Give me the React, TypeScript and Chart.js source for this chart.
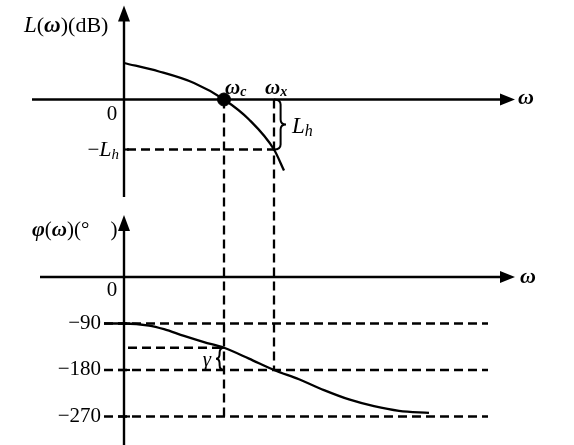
import React, { useEffect, useRef } from 'react';
import { Chart, registerables } from 'chart.js';

Chart.register(...registerables);

// ---- data (diagram values) ----
const OMEGA_C = 2.0; // gain crossover frequency
const OMEGA_X = 3.0; // phase crossover frequency
const L_H = 10; // gain margin (dB)
const PHASE_AT_WC = -137; // phase at omega_c  (gamma = 43 deg)

const magOmega = [0, 0.7, 1.4, 2.0, 2.5, 3.0, 3.2];
const magDb = [7.3, 5.6, 3.3, 0, -4.0, -10, -14.2];

const phaseOmega = [-0.4, 0, 0.5, 0.8, 1.2, 1.6, 2.0, 2.5, 3.0, 3.5, 4.0, 4.5, 5.0, 5.5, 6.1];
const phaseDeg = [-90, -90, -94, -101, -114, -126, -137, -158, -180, -198, -219, -237, -250, -259, -263];

const phaseRefLines = [-90, -180, -270];
const phaseTickLabels = ['\u221290', '\u2212180', '\u2212270'];

const SERIF = '"Liberation Serif", "Times New Roman", serif';

type Part = { t: string; f: string; dy?: number };

function drawParts(ctx: CanvasRenderingContext2D, parts: Part[], x: number, y: number, align: 'left' | 'right' | 'center') {
  const widths = parts.map((p) => {
    ctx.font = p.f;
    return ctx.measureText(p.t).width;
  });
  const total = widths.reduce((a, b) => a + b, 0);
  let cx = align === 'right' ? x - total : align === 'center' ? x - total / 2 : x;
  ctx.textBaseline = 'middle';
  ctx.textAlign = 'left';
  parts.forEach((p, i) => {
    ctx.font = p.f;
    ctx.fillText(p.t, cx, y + (p.dy || 0));
    cx += widths[i];
  });
}

function arrowRight(ctx: CanvasRenderingContext2D, x: number, y: number) {
  ctx.beginPath();
  ctx.moveTo(x, y);
  ctx.lineTo(x - 15, y - 6);
  ctx.lineTo(x - 15, y + 6);
  ctx.closePath();
  ctx.fill();
}

function arrowUp(ctx: CanvasRenderingContext2D, x: number, y: number) {
  ctx.beginPath();
  ctx.moveTo(x, y);
  ctx.lineTo(x - 6, y + 16);
  ctx.lineTo(x + 6, y + 16);
  ctx.closePath();
  ctx.fill();
}

function brace(ctx: CanvasRenderingContext2D, x: number, y1: number, y2: number, w: number) {
  const h = y2 - y1;
  const r = Math.min(5, h / 4);
  const mid = (y1 + y2) / 2;
  const xm = x + w * 0.55;
  ctx.beginPath();
  ctx.moveTo(x, y1);
  ctx.quadraticCurveTo(xm, y1, xm, y1 + r);
  ctx.lineTo(xm, mid - r);
  ctx.quadraticCurveTo(xm, mid, x + w, mid);
  ctx.quadraticCurveTo(xm, mid, xm, mid + r);
  ctx.lineTo(xm, y2 - r);
  ctx.quadraticCurveTo(xm, y2, x, y2);
  ctx.stroke();
}

const diagramPlugin = {
  id: 'bodeDiagram',
  afterDatasetsDraw(chart: any) {
    const ctx: CanvasRenderingContext2D = chart.ctx;
    const xs = chart.scales.x;
    const yl = chart.scales.yL;
    const yp = chart.scales.yP;
    const X = (v: number) => xs.getPixelForValue(v);
    const YL = (v: number) => yl.getPixelForValue(v);
    const YP = (v: number) => yp.getPixelForValue(v);

    ctx.save();
    ctx.strokeStyle = '#000';
    ctx.fillStyle = '#000';

    // dashed reference lines
    ctx.lineWidth = 2.3;
    ctx.setLineDash([9, 5]);
    const dline = (x1: number, y1: number, x2: number, y2: number) => {
      ctx.beginPath();
      ctx.moveTo(x1, y1);
      ctx.lineTo(x2, y2);
      ctx.stroke();
    };
    dline(X(0.06), YL(-L_H), X(OMEGA_X), YL(-L_H));
    dline(X(OMEGA_C), YL(0), X(OMEGA_C), YP(-270));
    dline(X(OMEGA_X), YL(0), X(OMEGA_X), YP(-180));
    phaseRefLines.forEach((p) => dline(X(-0.4), YP(p), X(7.28), YP(p)));
    dline(X(0.08), YP(PHASE_AT_WC), X(OMEGA_C), YP(PHASE_AT_WC));
    ctx.setLineDash([]);

    // axes
    ctx.lineWidth = 2.4;
    const sline = (x1: number, y1: number, x2: number, y2: number) => {
      ctx.beginPath();
      ctx.moveTo(x1, y1);
      ctx.lineTo(x2, y2);
      ctx.stroke();
    };
    // magnitude axes
    sline(X(-1.84), YL(0), X(7.6), YL(0));
    arrowRight(ctx, X(7.82), YL(0));
    sline(X(0), YL(17), X(0), YL(-19.5));
    arrowUp(ctx, X(0), YL(18.8));
    // phase axes
    sline(X(-1.68), YP(0), X(7.6), YP(0));
    arrowRight(ctx, X(7.82), YP(0));
    sline(X(0), YP(90), X(0), YP(-340));
    arrowUp(ctx, X(0), YP(120));

    // small ticks on the vertical axes
    ctx.lineWidth = 2.2;
    sline(X(0), YL(-L_H), X(0.1), YL(-L_H));
    phaseRefLines.forEach((p) => sline(X(-0.12), YP(p), X(0.12), YP(p)));

    // braces
    ctx.lineWidth = 2;
    brace(ctx, X(OMEGA_X), YL(0), YL(-L_H), 12);
    brace(ctx, X(OMEGA_C), YP(PHASE_AT_WC), YP(-180), -8);

    // texts
    const it = (s: number) => `italic ${s}px ${SERIF}`;
    const nm = (s: number) => `${s}px ${SERIF}`;
    const bi = (s: number) => `italic bold ${s}px ${SERIF}`;

    drawParts(ctx, [
      { t: 'L', f: it(23) },
      { t: '(', f: nm(22) },
      { t: '\u03c9', f: bi(23) },
      { t: ')(dB)', f: nm(22) },
    ], 24, 26, 'left');

    drawParts(ctx, [{ t: '0', f: nm(21) }], X(-0.24), YL(-2.9), 'center');
    drawParts(ctx, [
      { t: '\u2212', f: nm(21) },
      { t: 'L', f: it(22) },
      { t: 'h', f: it(15), dy: 5 },
    ], X(-0.1), YL(-L_H) + 1, 'right');

    drawParts(ctx, [{ t: '\u03c9', f: bi(22) }], X(7.88), YL(0) - 1, 'left');
    drawParts(ctx, [
      { t: '\u03c9', f: bi(21) },
      { t: 'c', f: bi(14), dy: 4 },
    ], X(OMEGA_C) + 1, YL(2.2), 'left');
    drawParts(ctx, [
      { t: '\u03c9', f: bi(21) },
      { t: 'x', f: bi(14), dy: 4 },
    ], X(OMEGA_X) - 9, YL(2.2), 'left');
    drawParts(ctx, [
      { t: 'L', f: it(23) },
      { t: 'h', f: it(16), dy: 5 },
    ], X(OMEGA_X) + 18, YL(-5.4), 'left');

    drawParts(ctx, [
      { t: '\u03c6', f: bi(22) },
      { t: '(', f: nm(21) },
      { t: '\u03c9', f: bi(21) },
      { t: ')(\u00b0    )', f: nm(21) },
    ], 32, YP(90), 'left');

    drawParts(ctx, [{ t: '0', f: nm(21) }], X(-0.24), YP(-27), 'center');
    phaseRefLines.forEach((p, i) => {
      drawParts(ctx, [{ t: phaseTickLabels[i], f: nm(21) }], X(-0.46), YP(p), 'right');
    });
    drawParts(ctx, [{ t: '\u03c9', f: bi(22) }], X(7.92), YP(0), 'left');
    drawParts(ctx, [{ t: '\u03b3', f: it(21) }], X(OMEGA_C) - 17, YP((PHASE_AT_WC - 180) / 2) + 2, 'center');

    ctx.restore();
  },
};

export default function App() {
  const ref = useRef<HTMLCanvasElement | null>(null);

  useEffect(() => {
    if (!ref.current) return;
    const chart = new Chart(ref.current, {
      type: 'line',
      data: {
        datasets: [
          {
            data: magOmega.map((w, i) => ({ x: w, y: magDb[i] })),
            yAxisID: 'yL',
            borderColor: '#000',
            borderWidth: 2.3,
            pointRadius: 0,
            cubicInterpolationMode: 'monotone',
            fill: false,
          },
          {
            data: phaseOmega.map((w, i) => ({ x: w, y: phaseDeg[i] })),
            yAxisID: 'yP',
            borderColor: '#000',
            borderWidth: 2.3,
            pointRadius: 0,
            cubicInterpolationMode: 'monotone',
            fill: false,
          },
          {
            data: [{ x: OMEGA_C, y: 0 }],
            yAxisID: 'yL',
            showLine: false,
            pointRadius: 6.5,
            pointBackgroundColor: '#000',
            pointBorderColor: '#000',
            borderColor: '#000',
          },
        ],
      },
      options: {
        animation: false,
        responsive: false,
        events: [],
        layout: { padding: 0, autoPadding: false },
        plugins: { legend: { display: false }, tooltip: { enabled: false } },
        scales: {
          x: { type: 'linear', min: -2.48, max: 9.0, display: false },
          yL: { type: 'linear', position: 'left', min: -69.1, max: 19.9, display: false },
          yP: { type: 'linear', position: 'left', min: -325.2, max: 536.1, display: false },
        },
      },
      plugins: [diagramPlugin],
    } as any);
    return () => chart.destroy();
  }, []);

  return (
    <div style={{ position: 'absolute', left: 0, top: 0, width: 574, height: 445, background: '#fff' }}>
      <canvas ref={ref} width={574} height={445} />
    </div>
  );
}
